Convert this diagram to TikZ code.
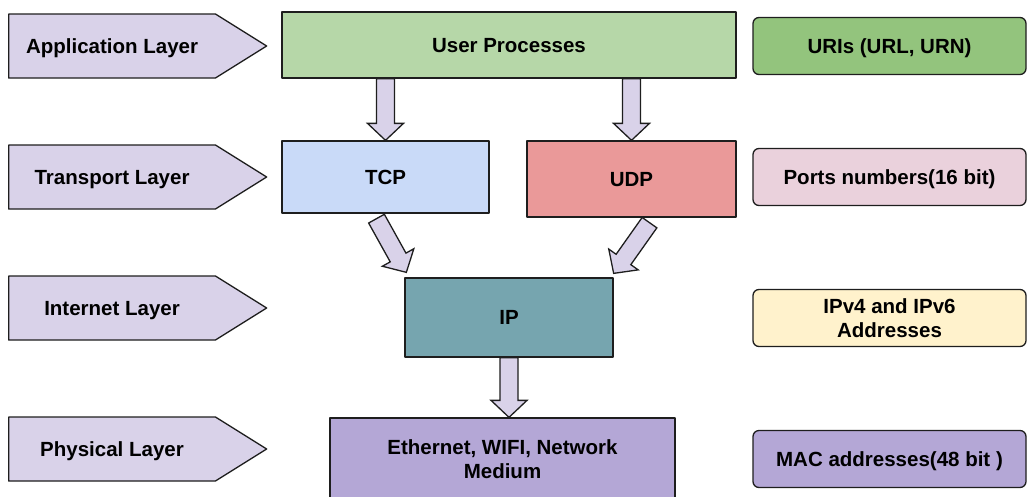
\documentclass[tikz,border=0pt]{standalone}
\usepackage{fontspec}
\setmainfont{Liberation Sans}
\usetikzlibrary{calc,shapes.symbols}
\definecolor{edge}{HTML}{1E1E1E}
\definecolor{lav}{HTML}{D9D2E9}
\definecolor{appgreen}{HTML}{B6D7A8}
\definecolor{tcpblue}{HTML}{C9DAF8}
\definecolor{udpred}{HTML}{EA9999}
\definecolor{ipteal}{HTML}{76A5AF}
\definecolor{ethpurple}{HTML}{B4A7D6}
\definecolor{urigreen}{HTML}{93C47D}
\definecolor{portpink}{HTML}{EAD1DC}
\definecolor{addryellow}{HTML}{FFF2CC}
\tikzset{
  base/.style={draw=edge, line width=1.3pt, line join=round, inner sep=0pt,
    align=center, text depth=0pt, font=\bfseries\fontsize{20.5}{24}\selectfont},
  layer/.style={base, fill=lav, shape=signal, signal to=east,
    signal pointer angle=64, minimum width=258pt, minimum height=64pt, anchor=west},
  blk/.style={base, rectangle},
  tag/.style={base, rounded corners=6pt, minimum width=273pt, minimum height=57pt},
  fat/.style={draw=edge, fill=lav, line width=1.3pt, line join=miter},
}
% fat block arrow from #1 to #2
\newcommand{\fatarrow}[2]{%
  \draw[fat] ($(#1)!9pt!90:(#2)$)
    -- ($(#2)!17pt!(#1)!9pt!-90:(#1)$)
    -- ($(#2)!17pt!(#1)!18pt!-90:(#1)$)
    -- (#2)
    -- ($(#2)!17pt!(#1)!18pt!90:(#1)$)
    -- ($(#2)!17pt!(#1)!9pt!90:(#1)$)
    -- ($(#1)!9pt!-90:(#2)$) -- cycle;}

\begin{document}
\begin{tikzpicture}[x=1pt,y=1pt]
  \useasboundingbox (0,0) rectangle (1028,-496);
  \clip (0,0) rectangle (1028,-496);
  % layers on the left
  \foreach \name/\y/\txt in {appl/46/Application Layer, trl/177/Transport Layer,
      inl/308/Internet Layer, phl/449/Physical Layer}
    \node[layer] (\name) at (8,-\y) {\txt};
  % protocol stack
  \node[blk, fill=appgreen, minimum width=454pt, minimum height=66pt] (up) at (509,-45) {User Processes};
  \node[blk, fill=tcpblue, minimum width=207pt, minimum height=72pt] (tcp) at (385.5,-177) {TCP};
  \node[blk, fill=udpred, minimum width=209pt, minimum height=76pt] (udp) at (631.5,-179) {UDP};
  \node[blk, fill=ipteal, minimum width=208pt, minimum height=79pt] (ip) at (509,-317.5) {IP};
  \node[blk, fill=ethpurple, minimum width=345pt, minimum height=82pt] (eth) at (502.5,-459)
    {Ethernet, WIFI, Network\\Medium};
  % addressing on the right
  \foreach \name/\y/\col/\txt in {uri/46/urigreen/{URIs (URL, URN)},
      port/177/portpink/{Ports numbers(16 bit)},
      addr/318/addryellow/{IPv4 and IPv6\\Addresses},
      mac/459/ethpurple/{MAC addresses(48 bit )}}
    \node[tag, fill=\col] (\name) at (889.5,-\y) {\txt};
  % arrows
  \coordinate (tcpout) at ($(tcp.south)+(-9,-5)$);
  \coordinate (ipinl) at ($(ip.north west)+(2,5)$);
  \coordinate (udpout) at ($(udp.south)+(18,-5)$);
  \coordinate (ipinr) at ($(ip.north east)+(0,4)$);
  \fatarrow{tcp.north |- up.south}{tcp.north}
  \fatarrow{udp.north |- up.south}{udp.north}
  \fatarrow{tcpout}{ipinl}
  \fatarrow{udpout}{ipinr}
  \fatarrow{ip.south}{ip.south |- eth.north}
\end{tikzpicture}
\end{document}
